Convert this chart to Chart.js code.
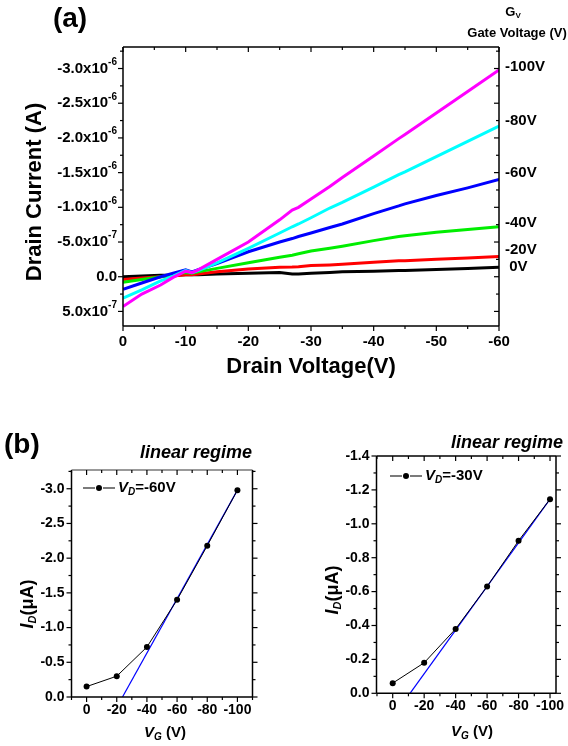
<!DOCTYPE html>
<html>
<head>
<meta charset="utf-8">
<title>OTFT output and transfer curves</title>
<script src="https://cdn.jsdelivr.net/npm/chart.js@4.4.1/dist/chart.umd.min.js"></script>
<style>
  html, body { margin: 0; padding: 0; background: #fff; }
  #page { position: relative; width: 568px; height: 746px; overflow: hidden; }
  #page canvas { position: absolute; left: 0; top: 0; }
</style>
</head>
<body>
<div id="page">
  <canvas id="outputChart" width="568" height="746"></canvas>
  <canvas id="transfer60Chart" width="568" height="746"></canvas>
  <canvas id="transfer30Chart" width="568" height="746"></canvas>
</div>
<script>
// ---- (a) output curves, drain current in units of 1e-6 A ----
const drainVoltage = [0, -3, -6, -8, -10, -11, -12, -15, -20, -25, -27, -28, -30, -33, -35, -40, -44, -45, -50, -55, -60];
const idGate100 = [0.43, 0.25, 0.12, 0.01, -0.08, -0.06, -0.10, -0.25, -0.50, -0.82, -0.96, -1.00, -1.12, -1.30, -1.43, -1.74, -1.99, -2.05, -2.36, -2.67, -2.98];
const idGate80 = [0.31, 0.19, 0.06, -0.01, -0.09, -0.06, -0.09, -0.20, -0.41, -0.63, -0.72, -0.76, -0.85, -0.99, -1.07, -1.29, -1.47, -1.51, -1.73, -1.95, -2.17];
const idGate60 = [0.18, 0.09, 0.0, -0.05, -0.10, -0.07, -0.10, -0.19, -0.36, -0.50, -0.55, -0.58, -0.63, -0.71, -0.76, -0.91, -1.02, -1.05, -1.17, -1.28, -1.40];
const idGate40 = [0.08, 0.04, 0.0, -0.03, -0.06, -0.05, -0.07, -0.12, -0.20, -0.28, -0.31, -0.33, -0.37, -0.41, -0.44, -0.52, -0.58, -0.59, -0.64, -0.68, -0.72];
const idGate20 = [0.04, 0.02, 0.0, -0.01, -0.03, -0.03, -0.04, -0.07, -0.11, -0.135, -0.14, -0.145, -0.16, -0.17, -0.18, -0.21, -0.23, -0.23, -0.25, -0.27, -0.29];
const idGate0 = [0.0, -0.01, -0.02, -0.02, -0.03, -0.03, -0.03, -0.04, -0.05, -0.06, -0.04, -0.04, -0.05, -0.06, -0.07, -0.08, -0.09, -0.09, -0.105, -0.12, -0.135];

const gateLabels = ['-100V', '-80V', '-60V', '-40V', '-20V', ' 0V'];
const gateLabelAt = [-3.03, -2.24, -1.49, -0.77, -0.38, -0.14];

const outXTicks = [0, -10, -20, -30, -40, -50, -60];
const outXTickLabels = ['0', '-10', '-20', '-30', '-40', '-50', '-60'];
const outYTicks = [-3.0, -2.5, -2.0, -1.5, -1.0, -0.5, 0, 0.5];
const outYTickLabels = ['-3.0x10^-6', '-2.5x10^-6', '-2.0x10^-6', '-1.5x10^-6', '-1.0x10^-6', '-5.0x10^-7', '0.0', '5.0x10^-7'];

// ---- (b) transfer curves, drain current in µA ----
const gateVoltage = [0, -20, -40, -60, -80, -100];
const idDrain60 = [-0.15, -0.30, -0.72, -1.40, -2.18, -2.98];
const idDrain30 = [-0.06, -0.18, -0.38, -0.63, -0.90, -1.145];
const fit60Vg = [-23.8, -100];
const fit60Id = [0, -2.98];
const fit30Vg = [-11, -100];
const fit30Id = [0, -1.145];

const vgTicks = [0, -20, -40, -60, -80, -100];
const vgTickLabels = ['0', '-20', '-40', '-60', '-80', '-100'];
const id60Ticks = [-3.0, -2.5, -2.0, -1.5, -1.0, -0.5, 0];
const id60TickLabels = ['-3.0', '-2.5', '-2.0', '-1.5', '-1.0', '-0.5', '0.0'];
const id30Ticks = [-1.4, -1.2, -1.0, -0.8, -0.6, -0.4, -0.2, 0];
const id30TickLabels = ['-1.4', '-1.2', '-1.0', '-0.8', '-0.6', '-0.4', '-0.2', '0.0'];

const FONT = "'Liberation Sans', Arial, sans-serif";
const font = (px, style = 'bold') => `${style} ${px}px ${FONT}`;
const T = (t, px, style, dy) => ({ t, f: font(px, style || 'bold'), dy: dy || 0 });

function drawRich(ctx, x, y, parts, align) {
    let w = 0;
    parts.forEach(p => { ctx.font = p.f; w += ctx.measureText(p.t).width; });
    let cx = align === 'center' ? x - w / 2 : align === 'right' ? x - w : x;
    ctx.textAlign = 'left';
    ctx.textBaseline = 'middle';
    parts.forEach(p => {
        ctx.font = p.f;
        ctx.fillText(p.t, cx, y + p.dy);
        cx += ctx.measureText(p.t).width;
    });
}

function steps(min, max, step) {
    const out = [];
    for (let k = Math.ceil(min / step - 1e-6); k * step <= max + 1e-6; k++) out.push(k * step);
    return out;
}

// frame, ticks, tick labels and annotations (Origin style)
const axesPlugin = {
    id: 'axes',
    afterDraw(chart, args, o) {
        const { ctx, chartArea: a } = chart;
        const xs = chart.scales.x, ys = chart.scales.y;
        const seg = (x1, y1, x2, y2) => { ctx.beginPath(); ctx.moveTo(x1, y1); ctx.lineTo(x2, y2); ctx.stroke(); };
        const isMajor = (list, v) => list.some(t => Math.abs(t - v) < 1e-6);
        const d = o.dir;
        ctx.save();
        ctx.fillStyle = '#000';
        ctx.strokeStyle = '#000';
        ctx.lineWidth = 1.5;
        seg(a.left, a.top, a.left, a.bottom);
        seg(a.left, a.bottom, a.right, a.bottom);
        seg(a.right, a.bottom, a.right, a.top);
        ctx.strokeStyle = o.topColor || '#000';
        seg(a.left, a.top, a.right, a.top);
        ctx.strokeStyle = '#000';
        ctx.lineWidth = 1.2;

        steps(xs.min, xs.max, o.xMinor).forEach(v => {
            const p = xs.getPixelForValue(v);
            const len = isMajor(o.xTicks, v) ? 5 : 3;
            seg(p, a.bottom, p, a.bottom + d.bottom * len);
            seg(p, a.top, p, a.top - d.top * len);
        });
        steps(ys.min, ys.max, o.yMinor).forEach(v => {
            const p = ys.getPixelForValue(v);
            const len = isMajor(o.yTicks, v) ? 5 : 3;
            seg(a.left, p, a.left - d.left * len, p);
            seg(a.right, p, a.right + d.right * len, p);
        });

        o.xTicks.forEach((v, i) => {
            drawRich(ctx, xs.getPixelForValue(v), a.bottom + o.xGap, [T(o.xLabels[i], o.tickPx)], 'center');
        });
        o.yTicks.forEach((v, i) => {
            const [main, sup] = o.yLabels[i].split('^');
            const parts = [T(main, o.tickPx)];
            if (sup) parts.push(T(sup, Math.round(o.tickPx * 0.65), 'bold', -o.tickPx * 0.42));
            drawRich(ctx, a.left - o.yGap, ys.getPixelForValue(v), parts, 'right');
        });

        if (o.endLabels) {
            o.endLabels.values.forEach((v, i) => {
                drawRich(ctx, o.endLabels.x, ys.getPixelForValue(v), [T(o.endLabels.texts[i], 15)], 'left');
            });
        }

        if (o.legend) {
            const L = o.legend;
            ctx.strokeStyle = '#333';
            ctx.lineWidth = 1.3;
            seg(L.x, L.y, L.x + 12, L.y);
            seg(L.x + 20, L.y, L.x + 32, L.y);
            ctx.beginPath();
            ctx.arc(L.x + 16, L.y, 3, 0, Math.PI * 2);
            ctx.fill();
            drawRich(ctx, L.x + 35, L.y, L.parts, 'left');
        }

        (o.texts || []).forEach(t => {
            ctx.save();
            ctx.translate(t.x, t.y);
            if (t.rotate) ctx.rotate(-Math.PI / 2);
            drawRich(ctx, 0, 0, t.parts, t.align || 'center');
            ctx.restore();
        });
        ctx.restore();
    }
};

function points(xv, yv) {
    return xv.map((x, i) => ({ x, y: yv[i] }));
}

function options(padding, xRange, yRange, axes) {
    return {
        responsive: false,
        animation: false,
        devicePixelRatio: 1,
        events: [],
        layout: { padding },
        plugins: { legend: { display: false }, tooltip: { enabled: false }, axes },
        scales: {
            x: { type: 'linear', display: false, reverse: true, min: xRange[0], max: xRange[1] },
            y: { type: 'linear', display: false, reverse: true, min: yRange[0], max: yRange[1] }
        }
    };
}

// ---- (a) ----
const outSeries = [
    { data: idGate100, color: '#ff00ff' },
    { data: idGate80, color: '#00ffff' },
    { data: idGate60, color: '#0000ff' },
    { data: idGate40, color: '#00ee00' },
    { data: idGate20, color: '#ff0000' },
    { data: idGate0, color: '#000000' }
];

new Chart(document.getElementById('outputChart'), {
    type: 'line',
    data: {
        datasets: outSeries.map(s => ({
            data: points(drainVoltage, s.data),
            borderColor: s.color,
            borderWidth: 3,
            pointRadius: 0,
            tension: 0
        }))
    },
    options: options({ left: 123, top: 47, right: 69, bottom: 420 }, [-60, 0], [-3.31, 0.71], {
        dir: { left: 1, right: -1, top: -1, bottom: 1 },
        xTicks: outXTicks, xLabels: outXTickLabels, xMinor: 5, xGap: 16,
        yTicks: outYTicks, yLabels: outYTickLabels, yMinor: 0.25, yGap: 6,
        tickPx: 15,
        endLabels: { x: 505, values: gateLabelAt, texts: gateLabels },
        texts: [
            { x: 70, y: 19, parts: [T('(a)', 28)] },
            { x: 513, y: 12, parts: [T('G', 13), T('V', 8, 'bold', 4)] },
            { x: 517, y: 33, parts: [T('Gate Voltage (V)', 13)] },
            { x: 35, y: 192, rotate: true, parts: [T('Drain Current (A)', 22)] },
            { x: 311, y: 367, parts: [T('Drain Voltage(V)', 22)] }
        ]
    }),
    plugins: [axesPlugin]
});

// ---- (b) transfer curves ----
function transferChart(id, idData, fitVg, fitId, pad, xRange, yRange, axes) {
    return new Chart(document.getElementById(id), {
        type: 'line',
        data: {
            datasets: [
                {
                    data: points(gateVoltage, idData),
                    borderColor: '#000',
                    borderWidth: 1,
                    pointRadius: 3,
                    pointBackgroundColor: '#000',
                    pointBorderWidth: 0,
                    tension: 0
                },
                {
                    data: points(fitVg, fitId),
                    borderColor: '#0000ff',
                    borderWidth: 1.2,
                    pointRadius: 0,
                    tension: 0
                }
            ]
        },
        options: options(pad, xRange, yRange, axes),
        plugins: [axesPlugin]
    });
}

transferChart('transfer60Chart', idDrain60, fit60Vg, fit60Id,
    { left: 71.5, top: 470, right: 315.5, bottom: 49 }, [-110, 10], [-3.27, 0], {
        dir: { left: 1, right: 1, top: -1, bottom: 1 }, topColor: '#777',
        xTicks: vgTicks, xLabels: vgTickLabels, xMinor: 10, xGap: 13,
        yTicks: id60Ticks, yLabels: id60TickLabels, yMinor: 0.25, yGap: 7,
        tickPx: 14,
        legend: { x: 83, y: 488, parts: [T('V', 15, 'italic bold'), T('D', 10, 'italic bold', 4), T('=-60V', 15)] },
        texts: [
            { x: 4, y: 445, align: 'left', parts: [T('(b)', 28)] },
            { x: 252, y: 453, align: 'right', parts: [T('linear regime', 18, 'italic bold')] },
            { x: 28, y: 604, rotate: true, parts: [T('I', 18, 'italic bold'), T('D', 11, 'italic bold', 5), T('(μA)', 18)] },
            { x: 165, y: 733, parts: [T('V', 15, 'italic bold'), T('G', 10, 'italic bold', 4), T(' (V)', 15)] }
        ]
    });

transferChart('transfer30Chart', idDrain30, fit30Vg, fit30Id,
    { left: 376.5, top: 456, right: 12, bottom: 52.7 }, [-103.8, 10.3], [-1.4, 0], {
        dir: { left: 1, right: 1, top: -1, bottom: 1 },
        xTicks: vgTicks, xLabels: vgTickLabels, xMinor: 10, xGap: 13,
        yTicks: id30Ticks, yLabels: id30TickLabels, yMinor: 0.1, yGap: 7,
        tickPx: 14,
        legend: { x: 390, y: 476, parts: [T('V', 15, 'italic bold'), T('D', 10, 'italic bold', 4), T('=-30V', 15)] },
        texts: [
            { x: 563, y: 443, align: 'right', parts: [T('linear regime', 18, 'italic bold')] },
            { x: 333, y: 590, rotate: true, parts: [T('I', 18, 'italic bold'), T('D', 11, 'italic bold', 5), T('(μA)', 18)] },
            { x: 472, y: 732, parts: [T('V', 15, 'italic bold'), T('G', 10, 'italic bold', 4), T(' (V)', 15)] }
        ]
    });
</script>
</body>
</html>
